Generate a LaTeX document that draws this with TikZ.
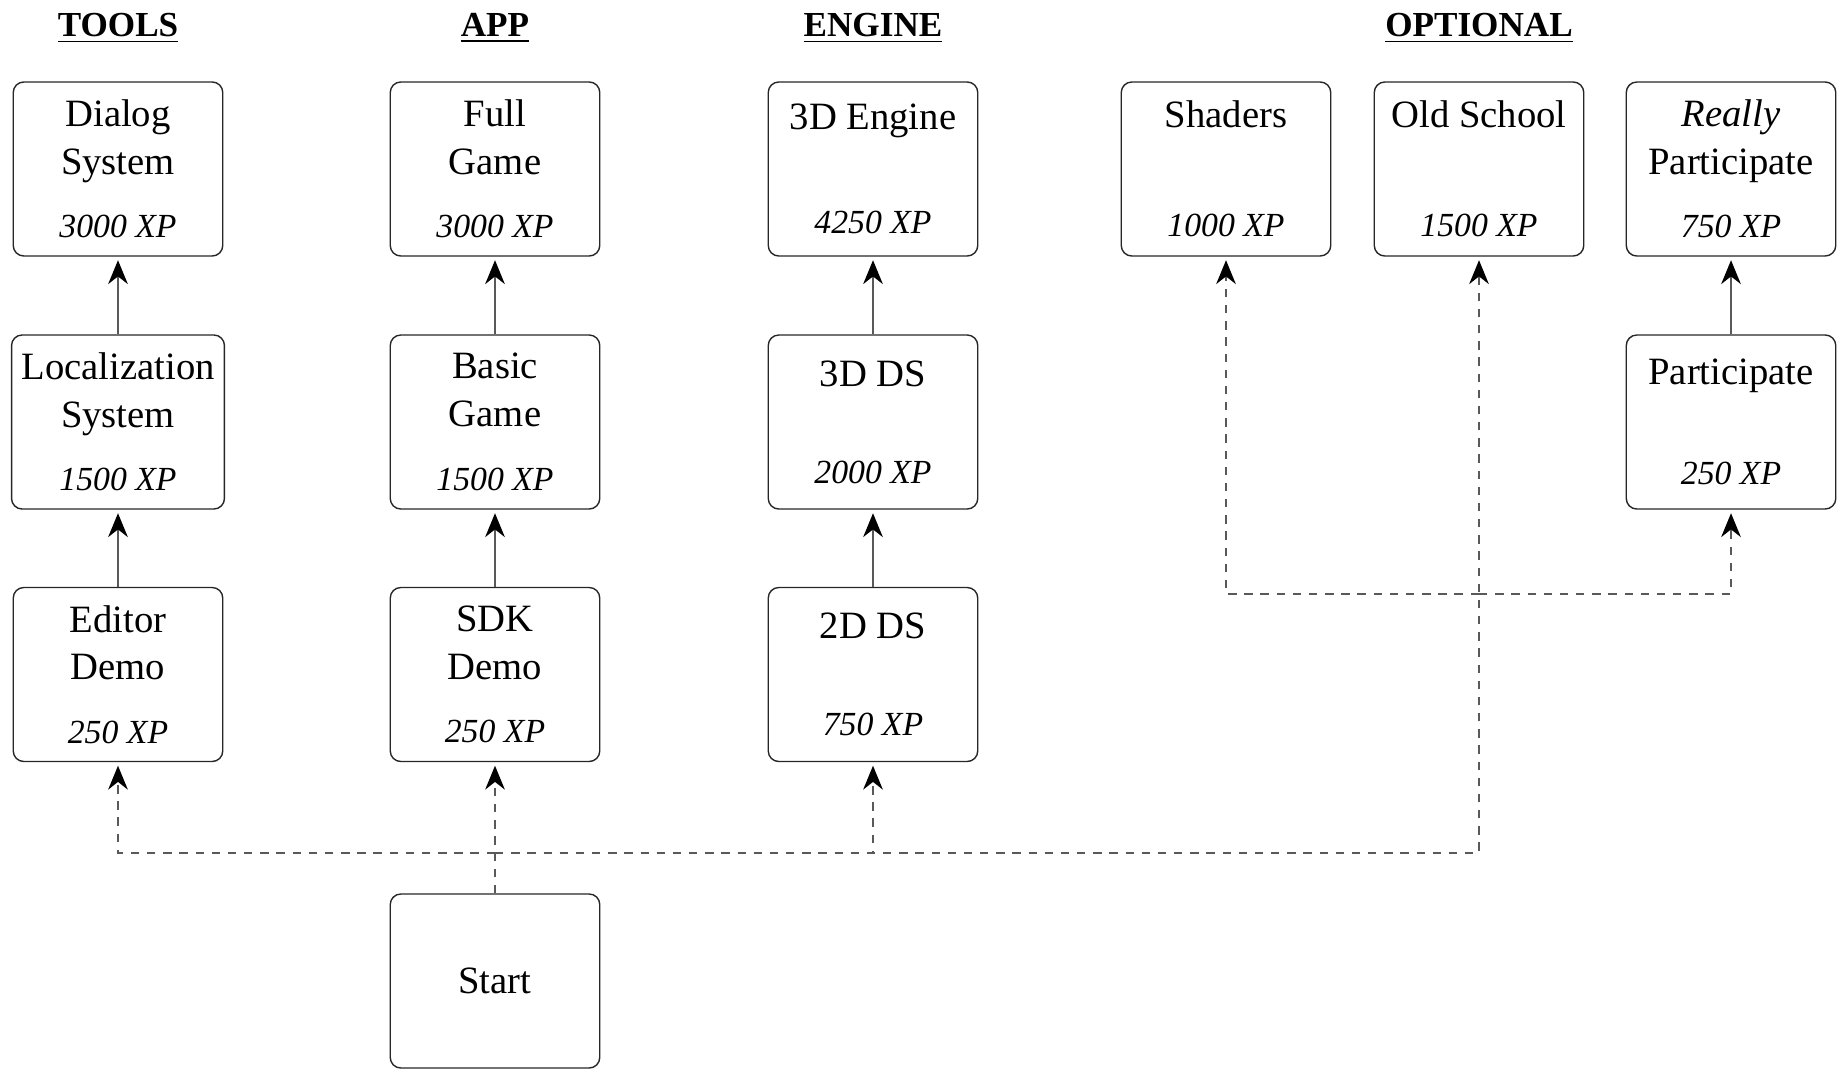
\documentclass[tikz,border=0pt]{standalone}
\usepackage{fontspec}
\setmainfont{Liberation Serif}
\usetikzlibrary{arrows.meta}

% points for a task
\newcommand{\xp}[1]{{\fontsize{9.6}{13}\selectfont\itshape #1~XP}}

\begin{document}
\begin{tikzpicture}[
    box/.style={draw=black!85, rounded corners=3pt, align=center, minimum width=2.095cm,
      minimum height=1.74cm, inner sep=2.8pt, font=\fontsize{11}{13.6}\selectfont},
    head/.style={anchor=base, font=\fontsize{10}{12}\selectfont\bfseries},
    link/.style={draw=black!65, -{Stealth[length=6.8pt,width=5.6pt,inset=2.2pt,color=black]},
      shorten >=1pt},
    dep/.style={link, dash pattern=on 2.4pt off 2.2pt}
  ]
    \useasboundingbox (0, 0) rectangle (18.45, -10.68);

    % column titles
    \node[head] (tools) at (1.18, -0.36) {\underline{TOOLS}};
    \node[head] (app) at (4.95, -0.36) {\underline{APP}};
    \node[head] (engine) at (8.73, -0.36) {\underline{ENGINE}};
    \node[head] (optional) at (14.79, -0.36) {\underline{OPTIONAL}};

    % tools
    \node[box] (dialog) at (1.18, -1.69) {Dialog\\System\\[4.5pt]\xp{3000}};
    \node[box] (loc) at (1.18, -4.22) {Localization\\System\\[4.5pt]\xp{1500}};
    \node[box] (editor) at (1.18, -6.745) {Editor\\Demo\\[4.5pt]\xp{250}};

    % app
    \node[box] (full) at (4.95, -1.69) {Full\\Game\\[4.5pt]\xp{3000}};
    \node[box] (basic) at (4.95, -4.22) {Basic\\Game\\[4.5pt]\xp{1500}};
    \node[box] (sdk) at (4.95, -6.745) {SDK\\Demo\\[4.5pt]\xp{250}};

    % engine
    \node[box] (engine3d) at (8.73, -1.69) {3D Engine\\[16pt]\xp{4250}};
    \node[box] (ds3d) at (8.73, -4.22) {3D DS\\[14pt]\xp{2000}};
    \node[box] (ds2d) at (8.73, -6.745) {2D DS\\[14pt]\xp{750}};

    % optional
    \node[box] (shaders) at (12.26, -1.69) {Shaders\\[17.5pt]\xp{1000}};
    \node[box] (oldschool) at (14.79, -1.69) {Old School\\[17.5pt]\xp{1500}};
    \node[box] (really) at (17.31, -1.69) {\textit{Really}\\Participate\\[4.5pt]\xp{750}};
    \node[box] (part) at (17.31, -4.22) {Participate\\[15pt]\xp{250}};

    \node[box] (start) at (4.95, -9.81) {Start};

    \draw[link] (editor) -- (loc);
    \draw[link] (loc) -- (dialog);
    \draw[link] (sdk) -- (basic);
    \draw[link] (basic) -- (full);
    \draw[link] (ds2d) -- (ds3d);
    \draw[link] (ds3d) -- (engine3d);
    \draw[link] (part) -- (really);

    % unlocked from the start
    \coordinate (fork) at (4.95, -8.53);
    \draw[dep] (start) -- (sdk);
    \draw[dep] (fork) -| (editor);
    \draw[dep] (fork) -| (ds2d);
    \draw[dep] (fork) -| (oldschool);
    \coordinate (split) at (14.79, -5.94);
    \draw[dep] (split) -| (shaders);
    \draw[dep] (split) -| (part);
\end{tikzpicture}
\end{document}
